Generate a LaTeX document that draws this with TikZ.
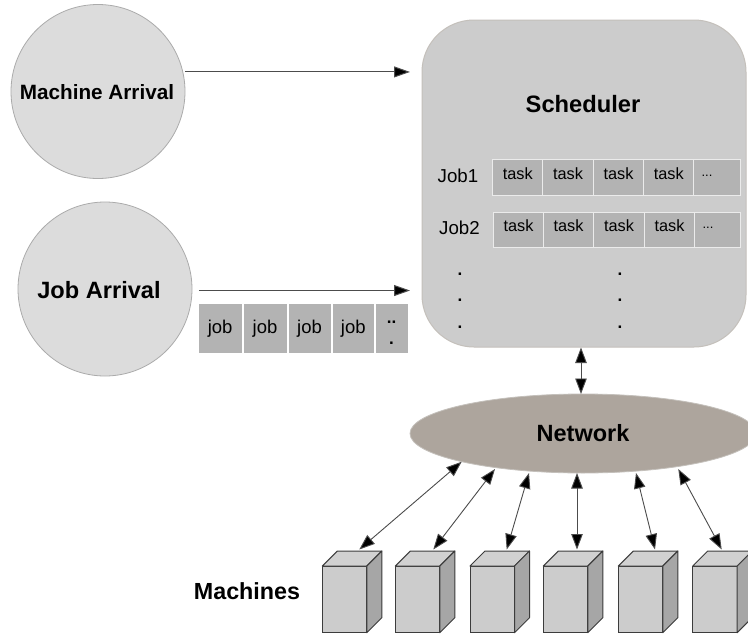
\documentclass[tikz,border=0pt]{standalone}
\usepackage{fontspec}
\setmainfont{Liberation Sans}
\usetikzlibrary{arrows.meta,shapes.geometric,calc}
\definecolor{circfill}{HTML}{DCDCDC}
\definecolor{circline}{HTML}{ABABAB}
\definecolor{schedfill}{HTML}{CCCCCC}
\definecolor{schedline}{HTML}{C4C0BB}
\definecolor{cellfill}{HTML}{B3B3B3}
\definecolor{netfill}{HTML}{ADA59D}
\definecolor{boxline}{HTML}{3C3C3C}
\tikzset{
  x=1pt,y=-1pt,
  every node/.style={inner sep=0pt,outer sep=0pt,text=black},
  arrivalcircle/.style={circle,draw=circline,fill=circfill,line width=0.8pt,minimum size=174pt},
  titlelabel/.style={font=\bfseries\fontsize{#1}{#1}\selectfont},
  onearrow/.style={draw=black!70,line width=1pt,-{Triangle[length=16pt,width=11pt,fill=black]}},
  twoarrow/.style={draw=black!70,line width=0.9pt,{Triangle[length=15.5pt,width=11.5pt,fill=black]}-{Triangle[length=15.5pt,width=11.5pt,fill=black]}},
  cell/.style={draw=white!92!black,fill=cellfill,line width=0.8pt,anchor=north west},
  celltext/.style={font=\fontsize{16.3}{16.3}\selectfont},
  jobtext/.style={font=\fontsize{18.5}{18.5}\selectfont},
  jobname/.style={font=\fontsize{18.7}{18.7}\selectfont},
  dotmark/.style={font=\bfseries\fontsize{17}{17}\selectfont},
  ellipsis/.style={font=\fontsize{13}{13}\selectfont},
  front/.style={draw=boxline,fill=schedfill,line width=1pt,anchor=north west,minimum width=44.5pt,minimum height=66.7pt},
  topface/.style={draw=boxline,fill=circfill!95!black,line width=1pt,line join=round},
  sideface/.style={draw=boxline,fill=black!35,line width=1pt,line join=round}
}
\newcommand{\machinebox}[2]{%
  \node[front] (#1) at (#2,566) {};
  \path[topface] (#1.north west) -- ++(15,-15) -- ++(44.5,0) -- ($(#1.north east)$) -- cycle;
  \path[sideface] (#1.north east) -- ++(15,-15) -- ++(0,66.7) -- (#1.south east) -- cycle;
}
\newcommand{\taskcell}[6]{%
  \node[cell,minimum width=#4,minimum height=#5] (#1) at (#2,#3) {};
  \node[celltext] at (#1.center |- 0,#6) {task};
}
\begin{document}
\begin{tikzpicture}
\useasboundingbox (0,0) rectangle (748,635);
\clip (0,0) rectangle (748,635);
\fill[white] (0,0) rectangle (748,635);

\node[arrivalcircle] (ma) at (98,91.5) {};
\node[titlelabel=20.7] at (97,92) {Machine Arrival};
\node[arrivalcircle] (ja) at (105,289) {};
\node[titlelabel=23.6] at (99,290) {Job Arrival};

\node[draw=schedline,fill=schedfill,line width=1pt,rounded corners=52pt,minimum width=324pt,minimum height=327pt] (sched) at (584,183.5) {};
\node[titlelabel=23.7] at (583,104) {Scheduler};

\draw[onearrow,shorten >=12pt,shorten <=2pt] (ma.13) -- (ma.13 -| sched.west);
\draw[onearrow,shorten >=12pt,shorten <=7pt] (ja.-1.3) -- (ja.-1.3 -| sched.west);

% job queue
\foreach \n/\xx/\w in {1/198/44.3,2/243/44,3/288/43,4/332/42.5,5/375/33}{
  \node[cell,minimum width=\w,minimum height=50,draw=white] (q\n) at (\xx,303.3) {};
}
\foreach \n in {1,2,3,4}{\node[jobtext] at (q\n.center) {job};}
\node[dotmark] at (q5.center |- 0,322.5) {..};
\node[dotmark] at (q5.center |- 0,343) {.};

% task rows
\node[jobname] at (458,175.5) {Job1};
\node[jobname] at (459.5,227.5) {Job2};
\taskcell{a1}{492.7}{159.3}{50}{36}{174}
\taskcell{a2}{542.7}{159.3}{50.6}{36}{174}
\taskcell{a3}{593.3}{159.3}{50.4}{36}{174}
\taskcell{a4}{643.7}{159.3}{50}{36}{174}
\node[cell,minimum width=46.3,minimum height=36] (a5) at (693.7,159.3) {};
\node[ellipsis] at (707,176) {...};
\taskcell{b1}{493.5}{212.3}{50}{35}{226}
\taskcell{b2}{543.5}{212.3}{50}{35}{226}
\taskcell{b3}{593.5}{212.3}{51}{35}{226}
\taskcell{b4}{644.5}{212.3}{50}{35}{226}
\node[cell,minimum width=46,minimum height=35] (b5) at (694.5,212.3) {};
\node[ellipsis] at (708,228) {...};
\foreach \yy in {274,300.5,327}{
  \node[dotmark] at (460,\yy) {.};
  \node[dotmark] at (620,\yy) {.};
}

% network
\node[ellipse,draw=schedline,fill=netfill,line width=0.8pt,minimum width=346pt,minimum height=79pt] (net) at (583,433.5) {};
\node[titlelabel=23.5] at (583,433) {Network};

\coordinate (s0) at (581,347.5);
\coordinate (n0) at (581,394);
\draw[twoarrow] (s0) -- (n0);

% machines
\node[titlelabel=23.3] at (247,591.5) {Machines};
\machinebox{m1}{322.3}
\machinebox{m2}{395.3}
\machinebox{m3}{470}
\machinebox{m4}{543.3}
\machinebox{m5}{618.3}
\machinebox{m6}{692.7}
\foreach \i/\nx/\ny/\tx in {1/461.7/461.7/359.3,2/495/469/433.3,3/529/473/506.7,4/577/473/577,5/636/473/655,6/678.3/469/721.7}{
  \coordinate (n\i) at (\nx,\ny);
  \coordinate (t\i) at (\tx,549.5);
  \draw[twoarrow] (n\i) -- (t\i);
}
\end{tikzpicture}
\end{document}
